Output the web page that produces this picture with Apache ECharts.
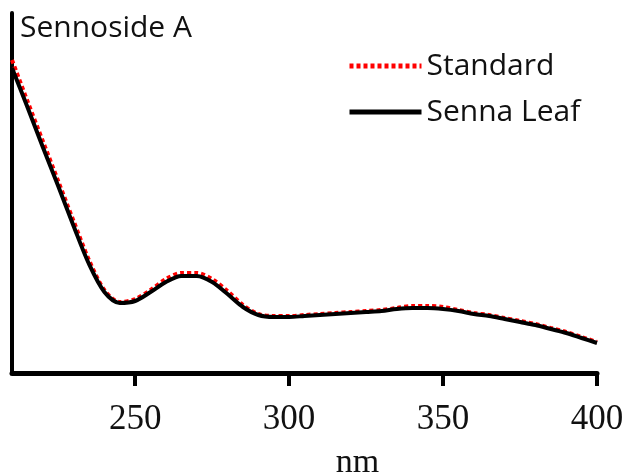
<!DOCTYPE html>
<html>
<head>
<meta charset="utf-8">
<script src="https://cdn.jsdelivr.net/npm/echarts@6/dist/echarts.min.js"></script>
<style>
html,body{margin:0;padding:0;background:#fff;}
#chart{width:633px;height:473px;}
</style>
</head>
<body>
<div id="chart"></div>
<script>
const wavelengths = [210,215,220,225,230,235,240,245,250,255,260,265,270,275,280,285,290,295,300,305,310,315,320,325,330,335,340,345,350,355,360,365,370,375,380,385,390,395,400];
const sennaLeaf = [305,266,226,187,147,109,81,70,72,81,91,97,97,91,79,66,58,56,56,57,58,59,60,61,62,64,65,65,64,62,59,57,54,51,48,44,40,35,30];
const standard = [313,272,232,192,152,113,83,71,74,83,94,100,100,94,82,68,59,57,57,58,59,60,61,62,63,65,67,67,66,63,60,58,55,52,49,45,41,36,31];
const xTicks = [250,300,350,400];
const seriesNames = ['Standard','Senna Leaf'];
const chartTitle = 'Sennoside A';
const xName = 'nm';

const chart = echarts.init(document.getElementById('chart'));
chart.setOption({
  animation: false,
  backgroundColor: '#fff',
  title: {
    text: chartTitle, left: 15, top: 8,
    textStyle: {fontFamily: 'Open Sans', fontSize: 30, fontWeight: 'normal', color: '#111'}
  },
  legend: {
    data: seriesNames, orient: 'vertical', left: 347, top: 51, padding: 0,
    itemWidth: 72, itemHeight: 6, itemGap: 16,
    lineStyle: {width: 5},
    itemStyle: {opacity: 0},
    textStyle: {fontFamily: 'Open Sans', fontSize: 30, color: '#111'}
  },
  grid: {left: 12, right: 36, top: 13, bottom: 100, containLabel: false, outerBoundsMode: 'none'},
  xAxis: {
    type: 'value', min: 210, max: 400,
    name: xName, nameLocation: 'middle', nameGap: 73,
    nameTextStyle: {fontFamily: 'Liberation Serif', fontSize: 34, color: '#111', padding: [0,0,0,106]},
    axisLine: {show: true, lineStyle: {color: '#000', width: 5}},
    axisTick: {show: true, customValues: xTicks, length: 13, lineStyle: {color: '#000', width: 4}},
    axisLabel: {customValues: xTicks, fontFamily: 'Liberation Serif', fontSize: 35, color: '#111', margin: 29},
    splitLine: {show: false}
  },
  yAxis: {
    type: 'value', min: 0, max: 360,
    axisLine: {show: true, lineStyle: {color: '#000', width: 4}},
    axisTick: {show: false}, axisLabel: {show: false}, splitLine: {show: false}
  },
  series: [
    {
      name: seriesNames[0], type: 'line', smooth: 0.3, symbol: 'none', z: 2,
      data: wavelengths.map((w,i)=>[w, standard[i]]),
      lineStyle: {color: '#ff0000', width: 4, type: [4,3]},
      itemStyle: {color: '#ff0000'}
    },
    {
      name: seriesNames[1], type: 'line', smooth: 0.3, symbol: 'none', z: 3,
      data: wavelengths.map((w,i)=>[w, sennaLeaf[i]]),
      lineStyle: {color: '#000', width: 4},
      itemStyle: {color: '#000'}
    }
  ]
});
</script>
</body>
</html>
